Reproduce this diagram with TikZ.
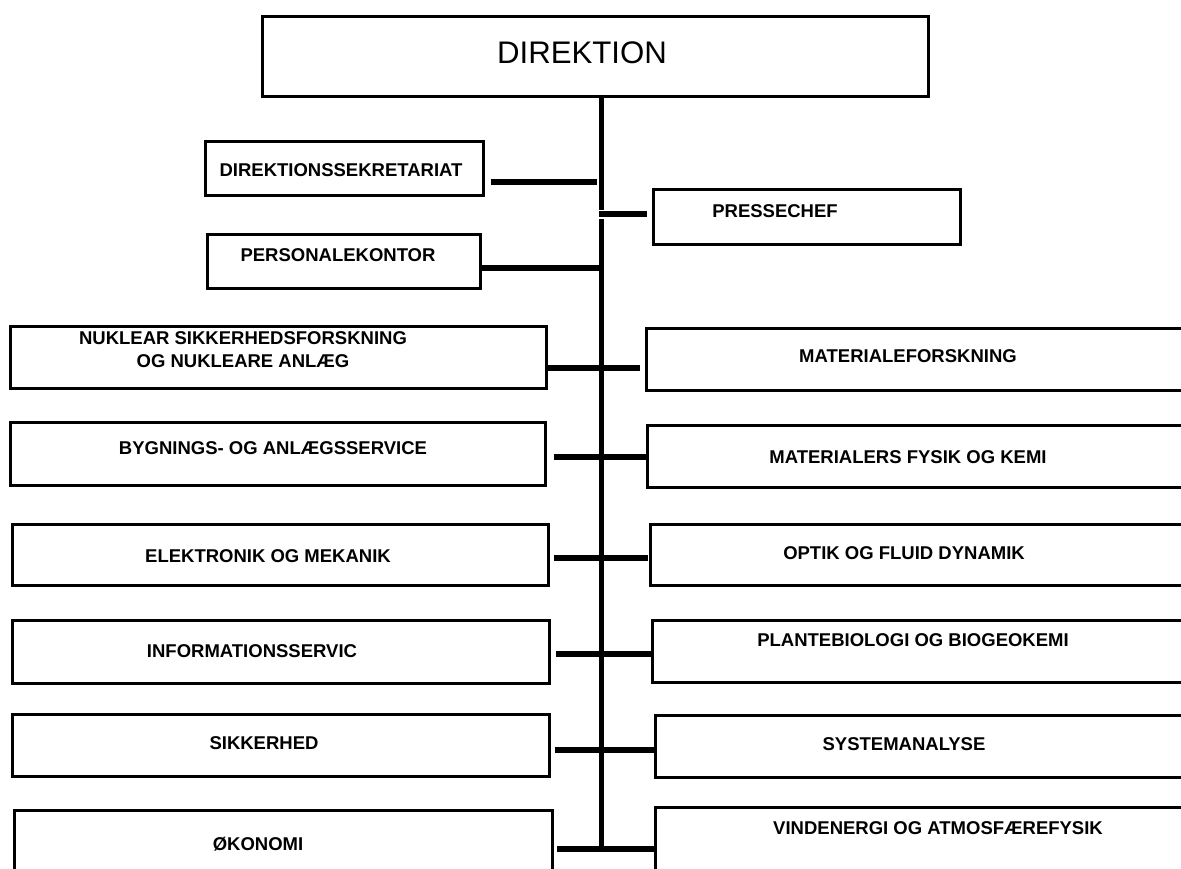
\documentclass[tikz,border=0pt]{standalone}
\usepackage{fontspec}
\setmainfont{Liberation Sans}

\begin{document}
\begin{tikzpicture}[x=0.5pt, y=-0.5pt,
  box/.style={draw, line width=1.5pt, inner sep=0pt, outer sep=0pt, anchor=north west},
  lbl/.style={font=\bfseries\fontsize{9.25}{11.5}\selectfont, align=center, inner sep=0pt},
  link/.style={line width=3pt},
  trunk/.style={line width=2.5pt}]

\useasboundingbox (0,0) rectangle (1181,868);
\clip (0,0) rectangle (1181,868);

% top
\node[box, minimum width=333pt, minimum height=40pt] (dir) at (262.5,16.5) {};
\node[inner sep=0pt, font=\fontsize{15.6}{18}\selectfont] (dirtxt) at (582,53) {DIREKTION};

% staff
\node[box, minimum width=139pt, minimum height=27pt] (sekr) at (205.5,141.5) {};
\node[lbl] (sekrtxt) at (341,170) {DIREKTIONSSEKRETARIAT};
\node[box, minimum width=153.5pt, minimum height=27.5pt] (presse) at (653.5,189.5) {};
\node[lbl] (pressetxt) at (775,211) {PRESSECHEF};
\node[box, minimum width=136.5pt, minimum height=27pt] (pers) at (207.5,234.5) {};
\node[lbl] (perstxt) at (338,255) {PERSONALEKONTOR};

% left column
\node[box, minimum width=268pt, minimum height=31pt] (nukl) at (10.5,326.5) {};
\node[lbl] (nukltxt) at (243,349.5) {NUKLEAR SIKKERHEDSFORSKNING\\OG NUKLEARE ANLÆG};
\node[box, minimum width=267.5pt, minimum height=31.5pt] (bygn) at (10.5,422.5) {};
\node[lbl] (bygntxt) at (273,448) {BYGNINGS- OG ANLÆGSSERVICE};
\node[box, minimum width=268pt, minimum height=30.5pt] (elek) at (12.5,524.5) {};
\node[lbl] (elektxt) at (268,556) {ELEKTRONIK OG MEKANIK};
\node[box, minimum width=268.5pt, minimum height=31.5pt] (info) at (12.5,620.5) {};
\node[lbl] (infotxt) at (252,651) {INFORMATIONSSERVIC};
\node[box, minimum width=268.5pt, minimum height=31pt] (sikk) at (12.5,714.5) {};
\node[lbl] (sikktxt) at (264,743) {SIKKERHED};
\node[box, minimum width=269pt, minimum height=50pt] (okon) at (14.5,810.5) {};
\node[lbl] (okontxt) at (258,844) {ØKONOMI};

% right column
\node[box, minimum width=290pt, minimum height=31pt] (mat) at (646.5,328.5) {};
\node[lbl] (mattxt) at (908,356) {MATERIALEFORSKNING};
\node[box, minimum width=290pt, minimum height=31pt] (matfys) at (647.5,425.5) {};
\node[lbl] (matfystxt) at (908,457) {MATERIALERS FYSIK OG KEMI};
\node[box, minimum width=290pt, minimum height=30.5pt] (optik) at (650.5,524.5) {};
\node[lbl] (optiktxt) at (904,553) {OPTIK OG FLUID DYNAMIK};
\node[box, minimum width=290pt, minimum height=31pt] (plant) at (652.5,620.5) {};
\node[lbl] (planttxt) at (913,640) {PLANTEBIOLOGI OG BIOGEOKEMI};
\node[box, minimum width=290pt, minimum height=31pt] (sys) at (655.5,715.5) {};
\node[lbl] (systxt) at (904,744) {SYSTEMANALYSE};
\node[box, minimum width=290pt, minimum height=50pt] (vind) at (655.5,807.5) {};
\node[lbl] (vindtxt) at (938,828) {VINDENERGI OG ATMOSFÆREFYSIK};

% trunk
\coordinate (bot) at (601,847);
\draw[trunk] (dir.south -| bot) -- (bot);

\coordinate (t1) at (601,182);
\coordinate (t2) at (601,214);
\coordinate (t3) at (601,268);
\coordinate (t4) at (601,368);
\coordinate (t5) at (601,457);
\coordinate (t6) at (601,558);
\coordinate (t7) at (601,654);
\coordinate (t8) at (601,750);
\coordinate (t9) at (601,849);

% branches
\draw[link] ([xshift=3.75pt]sekr.east |- t1) -- ([xshift=-2pt]t1);
\draw[white, line width=4.5pt] ([xshift=-2pt]t2) -- ([xshift=2pt]t2);
\draw[link] ([xshift=-1pt]t2) -- ([xshift=-3.25pt]presse.west |- t2);
\draw[link] ([xshift=0.75pt]pers.east |- t3) -- (t3);
\draw[link] ([xshift=0.75pt]nukl.east |- t4) -- ([xshift=-3.25pt]mat.west |- t4);
\draw[link] ([xshift=4.25pt]bygn.east |- t5) -- ([xshift=0.75pt]matfys.west |- t5);
\draw[link] ([xshift=2.75pt]elek.east |- t6) -- ([xshift=-1.25pt]optik.west |- t6);
\draw[link] ([xshift=3.25pt]info.east |- t7) -- ([xshift=-0.75pt]plant.west |- t7);
\draw[link] ([xshift=2.75pt]sikk.east |- t8) -- ([xshift=-0.75pt]sys.west |- t8);
\draw[link] ([xshift=2.25pt]okon.east |- t9) -- ([xshift=0.75pt]vind.west |- t9);

\end{tikzpicture}
\end{document}
